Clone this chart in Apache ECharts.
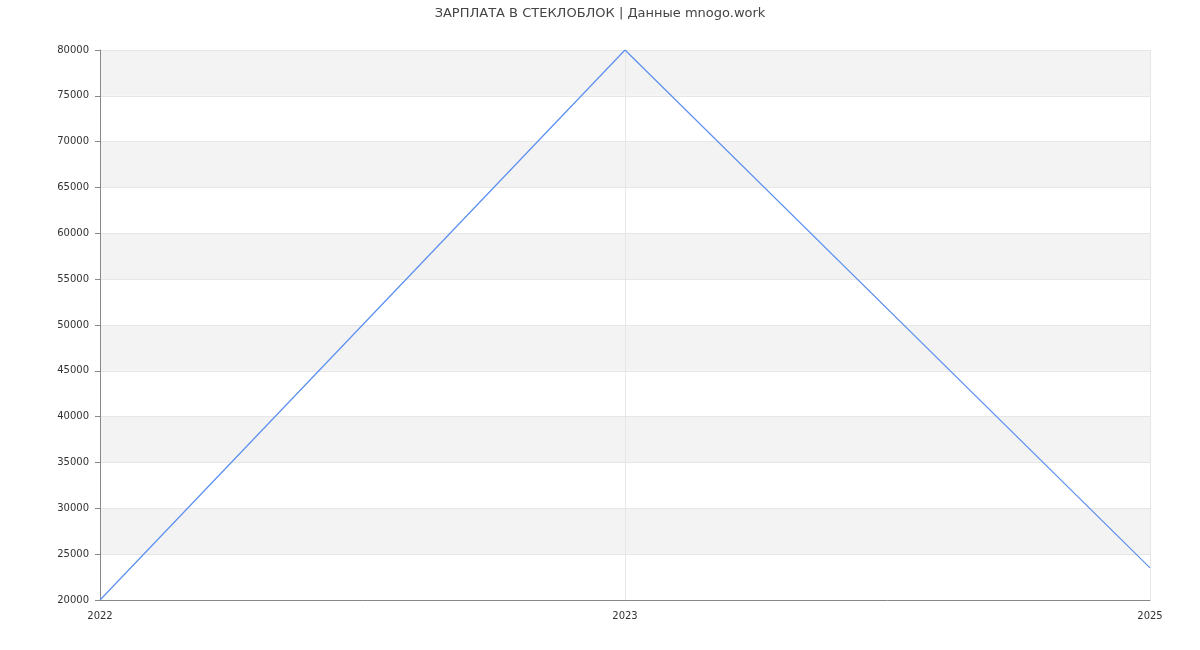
<!DOCTYPE html>
<html><head><meta charset="utf-8">
<script src="https://cdn.jsdelivr.net/npm/echarts@6/dist/echarts.min.js"></script>
<style>html,body{margin:0;padding:0;background:#fff}#c{width:1200px;height:650px}</style>
</head><body><div id="c"></div>
<script>
const titleText = 'ЗАРПЛАТА В СТЕКЛОБЛОК | Данные mnogo.work';
const categories = ['2022', '2023', '2025'];
const salaries = [20000, 80000, 23500];
const chart = echarts.init(document.getElementById('c'));
chart.setOption({
  animation: false,
  textStyle: { fontFamily: 'DejaVu Sans' },
  title: { text: titleText, left: 'center', top: 2, textStyle: { fontSize: 13, fontWeight: 'normal', color: '#444', fontFamily: 'DejaVu Sans' } },
  grid: { left: 100, right: 50, top: 50, bottom: 50 },
  xAxis: {
    type: 'category', data: categories, boundaryGap: false,
    axisLine: { lineStyle: { color: '#888' } },
    axisTick: { show: false },
    axisLabel: { color: '#333', fontSize: 10, margin: 11 },
    splitLine: { show: true, lineStyle: { color: '#e6e6e6' } }
  },
  yAxis: {
    type: 'value', min: 20000, max: 80000, interval: 5000,
    axisLine: { show: true, lineStyle: { color: '#888' } },
    axisTick: { show: true, length: 5, lineStyle: { color: '#888' } },
    axisLabel: { color: '#333', fontSize: 10, margin: 11, formatter: v => String(v) },
    splitLine: { show: true, lineStyle: { color: '#e6e6e6' } },
    splitArea: { show: true, areaStyle: { color: ['#ffffff', '#f3f3f3'] } }
  },
  series: [{
    type: 'line', data: salaries, showSymbol: false, symbol: 'none',
    lineStyle: { color: '#5b8ff0', width: 1.2 }
  }]
});
</script></body></html>
